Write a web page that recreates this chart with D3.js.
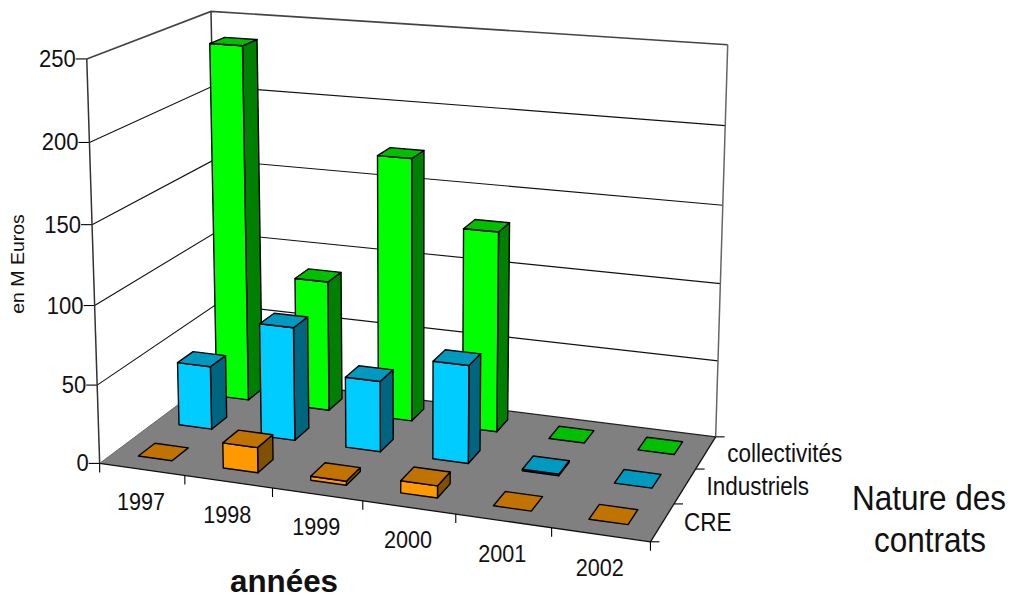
<!DOCTYPE html>
<html lang="fr">
<head>
<meta charset="utf-8">
<title>Nature des contrats par année</title>
<script src="https://cdn.jsdelivr.net/npm/d3@7"></script>
<style>
html,body{margin:0;padding:0;background:#fff}
svg{display:block}
text{font-family:"Liberation Sans",Arial,sans-serif;fill:#111}
</style>
</head>
<body>
<svg id="chart" width="1012" height="599"></svg>
<script>
const years = ["1997","1998","1999","2000","2001","2002"];
const seriesNames = ["CRE","Industriels","collectivités"];
const valuesCRE = [0,16,2.5,7.5,0,0];
const valuesIndustriels = [41.5,73.5,45.5,62.5,1,0];
const valuesCollectivites = [236.5,86.5,172.5,130.5,0,0];
const valueTicks = [0,50,100,150,200,250];

const faceColors = {front:["#FF9900","#00CCFF","#00FF00"],top:["#C07300","#0099C0","#00C000"],side:["#805000","#006680","#008000"]};

// Box reference points in page pixels: [across, depth, height, px, py]
const boxCorners = [
  [0,0,0,101,463],[1,0,0,649,544],[1,1,0,716,434],[0,1,0,216,376],
  [0,0,1,86,58],[0,1,1,212,12],[1,1,1,727,44],
  [0,0,.8,89,142],[0,0,.6,92,224],[0,0,.4,95,306],[0,0,.2,98,385],
  [1,1,.8,725,127],[1,1,.6,723,206],[1,1,.4,721,284],[1,1,.2,719,360]
];

// Least-squares pinhole camera (3x4 matrix with last entry fixed to 1)
function solveCamera(pts){
  const n = 11, A = d3.range(n).map(()=>new Array(n+1).fill(0));
  const addRow = (r,b)=>{
    for(let i=0;i<n;i++){
      for(let j=0;j<n;j++) A[i][j]+=r[i]*r[j];
      A[i][n]+=r[i]*b;
    }
  };
  pts.forEach(([x,y,z,px,py])=>{
    const u=px/1000,v=py/1000;
    addRow([x,y,z,1,0,0,0,0,-u*x,-u*y,-u*z],u);
    addRow([0,0,0,0,x,y,z,1,-v*x,-v*y,-v*z],v);
  });
  for(let c=0;c<n;c++){
    let p=c;
    for(let r=c+1;r<n;r++) if(Math.abs(A[r][c])>Math.abs(A[p][c])) p=r;
    [A[c],A[p]]=[A[p],A[c]];
    for(let r=0;r<n;r++){
      if(r===c) continue;
      const f=A[r][c]/A[c][c];
      for(let k=c;k<=n;k++) A[r][k]-=f*A[c][k];
    }
  }
  return A.map((row,i)=>row[n]/row[i]);
}
const cam = solveCamera(boxCorners);
const project = (u,d,h)=>{
  const w = cam[8]*u+cam[9]*d+cam[10]*h+1;
  return [1000*(cam[0]*u+cam[1]*d+cam[2]*h+cam[3])/w, 1000*(cam[4]*u+cam[5]*d+cam[6]*h+cam[7])/w];
};

const xBand = d3.scaleBand().domain(years).range([0,1]);
const zBand = d3.scaleBand().domain(seriesNames).range([0,1]);
const yScale = d3.scaleLinear().domain([0,250]).range([0,1]);
const barShare = 0.40, barShift = -0.009, depthShare = 0.40, depthShift = 0.03;

const svg = d3.select("#chart");
const polyLine = d3.line();
const face = (g,corners,fill)=>g.append("path")
  .attr("d",polyLine(corners)+"Z").attr("fill",fill)
  .attr("stroke","#000").attr("stroke-width",1.4).attr("stroke-linejoin","round");
const seg = (g,a,b,color="#000",w=1.1)=>g.append("line")
  .attr("x1",a[0]).attr("y1",a[1]).attr("x2",b[0]).attr("y2",b[1])
  .attr("stroke",color).attr("stroke-width",w);
const offset = (p,dx,dy)=>[p[0]+dx,p[1]+dy];

// Walls and gridlines
const walls = svg.append("g");
valueTicks.slice(1).forEach(v=>{
  const h=yScale(v), c=project(0,1,h);
  const wallLine = d3.line()([project(0,0,h),c,project(1,1,h)]);
  walls.append("path").attr("d",wallLine).attr("fill","none").attr("stroke",v===250?"#444":"#111").attr("stroke-width",v===250?1.6:1.1);
  seg(walls,offset(project(0,0,h),-11,0),project(0,0,h));
});
seg(walls,project(0,0,0),project(0,0,1),"#333",1.5);
seg(walls,project(0,1,0),project(0,1,1),"#333",1.5);
seg(walls,project(1,1,0),project(1,1,1),"#666",1.5);

// Floor
walls.append("path")
  .attr("d",polyLine([project(0,0,0),project(1,0,0),project(1,1,0),project(0,1,0)])+"Z")
  .attr("fill","#808080");
seg(walls,project(0,1,0),project(1,1,0),"#222",1.3);
seg(walls,project(0,0,0),project(1,0,0),"#111",1.3);
seg(walls,project(1,0,0),project(1,1,0),"#111",1.3);
seg(walls,project(0,0,0),project(0,1,0),"#666",1);

// Axis ticks
seg(walls,offset(project(0,0,0),-11,0),project(0,0,0));
d3.range(years.length+1).forEach(i=>{
  const p=project(i/years.length,0,0);
  seg(walls,p,offset(p,0,9));
});
d3.range(seriesNames.length+1).forEach(i=>{
  const p=project(1,i/seriesNames.length,0);
  seg(walls,p,offset(p,9,0));
});

// Bars, drawn from the back row forward and left to right
const rows = [valuesCRE,valuesIndustriels,valuesCollectivites];
const bars = svg.append("g");
d3.range(rows.length-1,-1,-1).forEach(s=>{
  years.forEach((yr,i)=>{
    const v = rows[s][i];
    const cw = xBand.bandwidth(), cd = zBand.bandwidth();
    const u0 = xBand(yr)+cw*((1-barShare)/2+barShift), u1 = u0+cw*barShare;
    const d0 = zBand(seriesNames[s])+cd*((1-depthShare)/2+depthShift), d1 = d0+cd*depthShare;
    const h = yScale(v);
    const g = bars.append("g");
    if(v>0){
      face(g,[project(u1,d0,0),project(u1,d1,0),project(u1,d1,h),project(u1,d0,h)],faceColors.side[s]);
      face(g,[project(u0,d0,0),project(u1,d0,0),project(u1,d0,h),project(u0,d0,h)],faceColors.front[s]);
    }
    face(g,[project(u0,d0,h),project(u1,d0,h),project(u1,d1,h),project(u0,d1,h)],faceColors.top[s]);
  });
});

// Text labels: glyphs are slightly condensed horizontally
const labels = svg.append("g");
const label = (x,y,str,size,anchor="start",sx=0.9)=>labels.append("text")
  .attr("transform",`translate(${x},${y}) scale(${sx},1)`)
  .attr("text-anchor",anchor).attr("font-size",size).text(str);
valueTicks.forEach(v=>{
  const p=project(0,0,yScale(v));
  label(p[0]-11,p[1]+8,v,24.5,"end");
});
years.forEach((yr,i)=>{
  const p=project((i+.5)/years.length,0,0);
  label(p[0]-1,p[1]+41,yr,24,"middle");
});
seriesNames.forEach((n,i)=>{
  const p=project(1,(i+.5)/seriesNames.length,0);
  label(p[0]+21.5,p[1]+9,n,25);
});
labels.append("text").attr("transform","translate(24,264) rotate(-90) scale(1,0.9)")
  .attr("text-anchor","middle").attr("font-size",19.5).text("en M Euros");
label(284,592,"années",32,"middle",0.98).attr("font-weight","bold");
label(929,510,"Nature des",35,"middle");
label(930,552,"contrats",35,"middle");
</script>
</body>
</html>
